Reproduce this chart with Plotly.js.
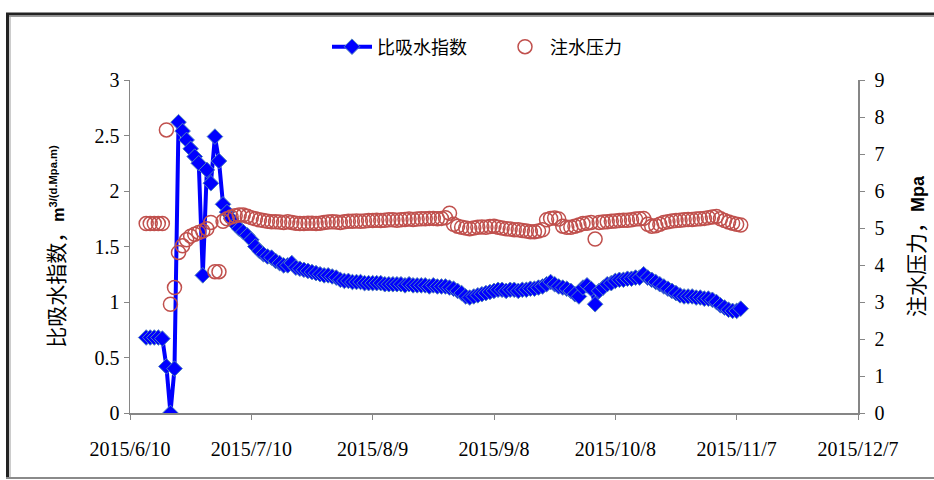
<!DOCTYPE html>
<html>
<head>
<meta charset="utf-8">
<script src="https://cdn.plot.ly/plotly-3.0.1.min.js"></script>
<style>
html,body{margin:0;padding:0;background:#fff;}
#chart{width:934px;height:480px;}
</style>
</head>
<body>
<div id="chart"></div>
<script>
// ---- data ----
const dates = [
 '2015-06-14','2015-06-15','2015-06-16','2015-06-17','2015-06-18','2015-06-19','2015-06-20','2015-06-21','2015-06-22','2015-06-23','2015-06-24','2015-06-25','2015-06-26','2015-06-27','2015-06-28','2015-06-29','2015-06-30',
 '2015-07-01','2015-07-02','2015-07-03','2015-07-04','2015-07-05','2015-07-06','2015-07-07','2015-07-08','2015-07-09','2015-07-10','2015-07-11','2015-07-12','2015-07-13','2015-07-14','2015-07-15','2015-07-16','2015-07-17','2015-07-18','2015-07-19','2015-07-20','2015-07-21','2015-07-22','2015-07-23','2015-07-24','2015-07-25','2015-07-26','2015-07-27','2015-07-28','2015-07-29','2015-07-30','2015-07-31',
 '2015-08-01','2015-08-02','2015-08-03','2015-08-04','2015-08-05','2015-08-06','2015-08-07','2015-08-08','2015-08-09','2015-08-10','2015-08-11','2015-08-12','2015-08-13','2015-08-14','2015-08-15','2015-08-16','2015-08-17','2015-08-18','2015-08-19','2015-08-20','2015-08-21','2015-08-22','2015-08-23','2015-08-24','2015-08-25','2015-08-26','2015-08-27','2015-08-28','2015-08-29','2015-08-30','2015-08-31',
 '2015-09-01','2015-09-02','2015-09-03','2015-09-04','2015-09-05','2015-09-06','2015-09-07','2015-09-08','2015-09-09','2015-09-10','2015-09-11','2015-09-12','2015-09-13','2015-09-14','2015-09-15','2015-09-16','2015-09-17','2015-09-18','2015-09-19','2015-09-20','2015-09-21','2015-09-22','2015-09-23','2015-09-24','2015-09-25','2015-09-26','2015-09-27','2015-09-28','2015-09-29','2015-09-30',
 '2015-10-01','2015-10-02','2015-10-03','2015-10-04','2015-10-05','2015-10-06','2015-10-07','2015-10-08','2015-10-09','2015-10-10','2015-10-11','2015-10-12','2015-10-13','2015-10-14','2015-10-15','2015-10-16','2015-10-17','2015-10-18','2015-10-19','2015-10-20','2015-10-21','2015-10-22','2015-10-23','2015-10-24','2015-10-25','2015-10-26','2015-10-27','2015-10-28','2015-10-29','2015-10-30','2015-10-31',
 '2015-11-01','2015-11-02','2015-11-03','2015-11-04','2015-11-05','2015-11-06','2015-11-07','2015-11-08'
];
// 比吸水指数, m3/(d.Mpa.m)
const absorptionIndex = [
 0.68,0.68,0.68,0.68,0.67,0.42,0.00,0.40,2.62,2.54,2.46,2.38,2.31,2.25,1.24,2.19,2.07,
 2.49,2.27,1.88,1.81,1.75,1.70,1.66,1.63,1.60,1.56,1.50,1.46,1.43,1.41,1.40,1.37,1.35,1.33,1.33,1.35,1.31,1.30,1.29,1.28,1.27,1.26,1.25,1.24,1.24,1.23,1.22,
 1.20,1.19,1.19,1.18,1.18,1.18,1.17,1.17,1.17,1.17,1.17,1.16,1.16,1.16,1.16,1.16,1.15,1.16,1.15,1.15,1.15,1.15,1.14,1.15,1.14,1.14,1.14,1.13,1.12,1.10,1.08,
 1.05,1.04,1.05,1.06,1.07,1.08,1.09,1.10,1.11,1.11,1.10,1.11,1.11,1.10,1.11,1.11,1.12,1.12,1.13,1.14,1.16,1.18,1.16,1.14,1.13,1.12,1.10,1.07,1.05,1.13,
 1.15,1.12,0.98,1.10,1.13,1.16,1.17,1.19,1.20,1.20,1.21,1.21,1.22,1.22,1.25,1.22,1.20,1.18,1.16,1.14,1.12,1.10,1.08,1.06,1.05,1.05,1.05,1.04,1.04,1.03,1.03,
 1.02,1.00,0.97,0.95,0.93,0.92,0.92,0.94
];
// 注水压力, Mpa
const injectionPressure = [
 5.12,5.12,5.12,5.12,5.12,7.65,2.94,3.39,4.34,4.52,4.68,4.78,4.83,4.88,4.92,4.98,5.15,
 3.82,3.82,5.18,5.25,5.30,5.33,5.35,5.35,5.32,5.28,5.25,5.22,5.20,5.18,5.17,5.17,5.16,5.15,5.17,5.15,5.13,5.12,5.12,5.13,5.13,5.12,5.13,5.15,5.16,5.17,5.16,
 5.15,5.17,5.18,5.18,5.19,5.18,5.19,5.20,5.20,5.21,5.20,5.21,5.22,5.22,5.21,5.22,5.23,5.24,5.23,5.24,5.25,5.25,5.26,5.26,5.25,5.26,5.28,5.40,5.10,5.05,5.02,
 5.00,4.98,5.00,5.02,5.03,5.02,5.04,5.05,5.02,5.00,4.98,4.97,4.95,4.95,4.93,4.92,4.90,4.90,4.92,4.95,5.22,5.26,5.27,5.24,5.05,5.02,5.02,5.05,5.08,5.12,
 5.13,5.15,4.70,5.15,5.16,5.17,5.18,5.19,5.20,5.21,5.21,5.22,5.24,5.25,5.26,5.10,5.05,5.06,5.10,5.15,5.17,5.19,5.20,5.21,5.22,5.23,5.23,5.24,5.25,5.26,5.28,
 5.30,5.31,5.25,5.20,5.16,5.13,5.10,5.08
];
const seriesNames = ['比吸水指数', '注水压力'];
const leftTickVals = [0, 0.5, 1, 1.5, 2, 2.5, 3];
const leftTickText = ['0', '0.5', '1', '1.5', '2', '2.5', '3'];
const rightTickVals = [0, 1, 2, 3, 4, 5, 6, 7, 8, 9];
const xTickVals = ['2015-06-10','2015-07-10','2015-08-09','2015-09-08','2015-10-08','2015-11-07','2015-12-07'];
const xTickText = ['2015/6/10','2015/7/10','2015/8/9','2015/9/8','2015/10/8','2015/11/7','2015/12/7'];

// ---- chart ----
const tickFont = {family: '"Liberation Serif", "Times New Roman", serif', size: 20, color: '#000'};
const cjk = '"Noto Sans CJK SC", sans-serif';

const traces = [
  {
    x: dates, y: absorptionIndex, name: seriesNames[0], type: 'scatter', mode: 'lines+markers',
    line: {color: '#0000FF', width: 4},
    marker: {symbol: 'diamond', size: 12, color: '#0000FF', line: {color: '#4F81BD', width: 1}},
    yaxis: 'y'
  },
  {
    x: dates, y: injectionPressure, name: seriesNames[1], type: 'scatter', mode: 'markers',
    marker: {symbol: 'circle-open', size: 14, color: '#C0504D', line: {color: '#C0504D', width: 1.5}},
    yaxis: 'y2'
  }
];

const X = px => (px - 130) / 728;
const Y = py => (413 - py) / 333;

const layout = {
  width: 934, height: 480,
  margin: {l: 130, r: 76, t: 80, b: 67},
  paper_bgcolor: '#fff', plot_bgcolor: '#fff',
  showlegend: true,
  legend: {
    orientation: 'h', x: X(500), xanchor: 'center', y: Y(47), yanchor: 'middle',
    itemwidth: 40, entrywidth: 118, entrywidthmode: 'pixels',
    font: {family: cjk, size: 18, color: '#000'}, bgcolor: 'rgba(0,0,0,0)'
  },
  xaxis: {
    type: 'date', range: ['2015-06-10', '2015-12-07'],
    tickmode: 'array', tickvals: xTickVals, ticktext: xTickText,
    ticks: 'outside', ticklen: 5, tickcolor: '#868686', tickwidth: 1,
    showline: true, linecolor: '#868686', linewidth: 1.5,
    showgrid: false, zeroline: false,
    tickfont: tickFont, ticklabelstandoff: 12
  },
  yaxis: {
    range: [0, 3], tickmode: 'array', tickvals: leftTickVals, ticktext: leftTickText,
    ticks: 'outside', ticklen: 5, tickcolor: '#868686',
    showline: true, linecolor: '#868686', linewidth: 1.5,
    showgrid: false, zeroline: false, tickfont: tickFont,
    title: {
      text: '比吸水指数，<b><span style="font-family:\'Liberation Sans\',Arial,sans-serif;font-size:16px">m<sup>3/(d.Mpa.m)</sup></span></b>',
      font: {family: cjk, size: 21, color: '#000'}, standoff: 24
    }
  },
  yaxis2: {
    range: [0, 9], overlaying: 'y', side: 'right',
    tickmode: 'array', tickvals: rightTickVals,
    ticks: 'outside', ticklen: 5, tickcolor: '#868686',
    showline: true, linecolor: '#868686', linewidth: 1.5,
    showgrid: false, zeroline: false, tickfont: tickFont, ticklabelstandoff: 6,
    title: {
      text: '注水压力，<b><span style="font-family:\'Liberation Sans\',Arial,sans-serif;font-size:18px">Mpa</span></b>',
      font: {family: cjk, size: 21, color: '#000'}, standoff: 26
    }
  },
  shapes: [
    {type: 'line', xref: 'paper', yref: 'paper', x0: X(6), x1: X(940), y0: Y(14), y1: Y(14), line: {color: '#222', width: 3}},
    {type: 'line', xref: 'paper', yref: 'paper', x0: X(6), x1: X(940), y0: Y(16.5), y1: Y(16.5), line: {color: '#999', width: 1}},
    {type: 'line', xref: 'paper', yref: 'paper', x0: X(7.5), x1: X(7.5), y0: Y(13), y1: Y(479), line: {color: '#222', width: 3}},
    {type: 'line', xref: 'paper', yref: 'paper', x0: X(10), x1: X(10), y0: Y(16), y1: Y(477), line: {color: '#999', width: 1}},
    {type: 'line', xref: 'paper', yref: 'paper', x0: X(6), x1: X(940), y0: Y(478), y1: Y(478), line: {color: '#8a8a8a', width: 2}}
  ]
};

Plotly.newPlot('chart', traces, layout, {staticPlot: true, displayModeBar: false});
</script>
</body>
</html>
